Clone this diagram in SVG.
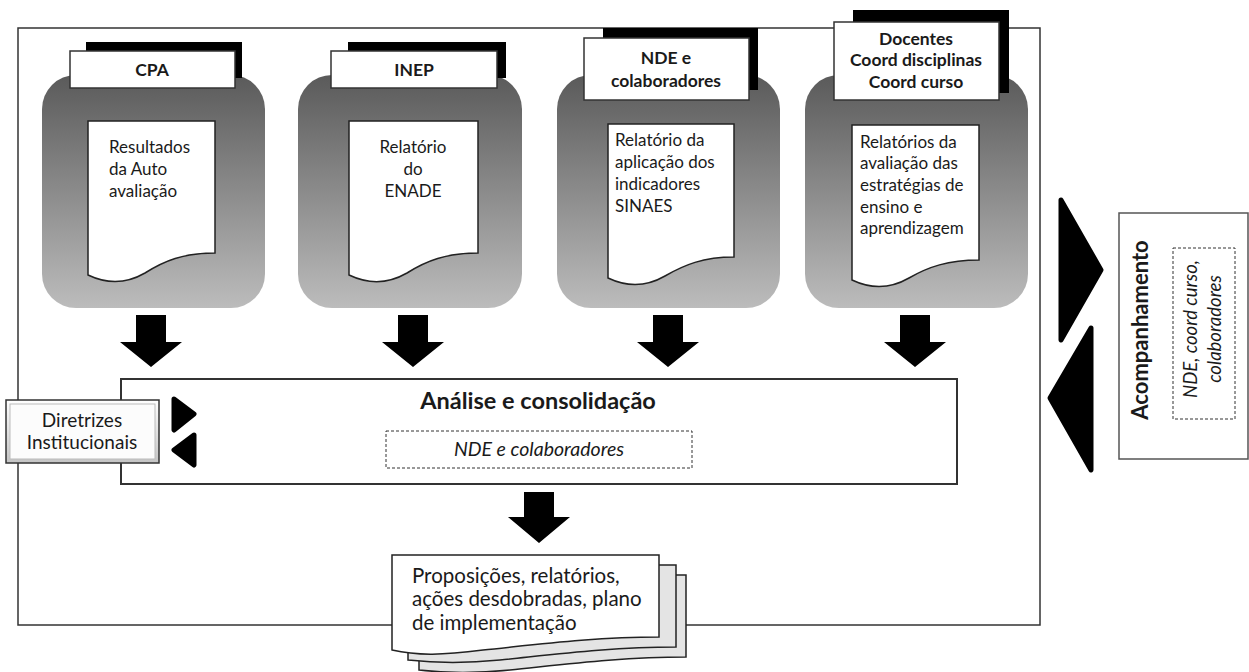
<svg xmlns="http://www.w3.org/2000/svg" width="1249" height="672" viewBox="0 0 1249 672">
<defs>
<linearGradient id="panelGrad" x1="0" y1="0" x2="0" y2="1">
<stop offset="0" stop-color="#5a5a5a"/>
<stop offset="1" stop-color="#bcbcbc"/>
</linearGradient>
<linearGradient id="bevel" x1="0" y1="0" x2="0" y2="1">
<stop offset="0" stop-color="#ffffff"/>
<stop offset="1" stop-color="#c4c4c4"/>
</linearGradient>
<style>
text{font-family:Lato,"Open Sans","Liberation Sans",sans-serif;fill:#1a1a1a}
.panel{fill:url(#panelGrad);stroke:none}
.shadow{fill:#000}
.label{fill:#fff;stroke:#333;stroke-width:1.5}
.lbl{font-size:17.5px;font-weight:bold;text-anchor:middle}
.doc{fill:#fff;stroke:#222;stroke-width:1.5}
.doc2{fill:#e4e4e4;stroke:#222;stroke-width:1.5}
.dtxt{font-size:17px}
.frame{fill:none;stroke:#333;stroke-width:1.5}
.arrow{fill:#000}
.dash{fill:#fff;stroke:#333;stroke-width:1;stroke-dasharray:3,2}
.tri{fill:#000;stroke:#000;stroke-width:5;stroke-linejoin:round}
</style>
</defs>
<rect width="1249" height="672" fill="#fff"/>

<g id="frame"><rect class="frame" x="18" y="28" width="1022" height="597"/></g>

<g id="panel-cpa">
<rect class="panel" x="42" y="75" width="223" height="233" rx="34"/>
<rect class="shadow" x="86" y="42" width="156" height="36"/>
<rect class="label" x="70" y="51" width="165" height="37"/>
<text class="lbl" x="152" y="76">CPA</text>
<path class="doc" d="M88,121 H215 V253 C183,253 164,261 145,273 C126,284 107,284 88,275 Z"/>
<text class="dtxt" x="109" y="153">Resultados</text>
<text class="dtxt" x="109" y="175">da Auto</text>
<text class="dtxt" x="109" y="197">avaliação</text>
</g>

<g id="panel-inep">
<rect class="panel" x="298" y="75" width="224" height="233" rx="34"/>
<rect class="shadow" x="348" y="42" width="158" height="36"/>
<rect class="label" x="331" y="51" width="166" height="37"/>
<text class="lbl" x="414" y="76">INEP</text>
<path class="doc" d="M349,121 H478 V253 C446,253 426,261 407,273 C388,284 368,284 349,275 Z"/>
<text class="dtxt" x="413" y="153" text-anchor="middle">Relatório</text>
<text class="dtxt" x="413" y="175" text-anchor="middle">do</text>
<text class="dtxt" x="413" y="197" text-anchor="middle">ENADE</text>
</g>

<g id="panel-nde">
<rect class="panel" x="557" y="75" width="223" height="233" rx="34"/>
<rect class="shadow" x="603" y="28" width="155" height="62"/>
<rect class="label" x="584" y="38" width="165" height="62"/>
<text class="lbl" x="666" y="64">NDE e</text>
<text class="lbl" x="666" y="87">colaboradores</text>
<path class="doc" d="M608,124 H734 V257 C703,257 684,265 665,276 C646,287 627,287 608,278 Z"/>
<text class="dtxt" x="615" y="146">Relatório da</text>
<text class="dtxt" x="615" y="168">aplicação dos</text>
<text class="dtxt" x="615" y="190">indicadores</text>
<text class="dtxt" x="615" y="212">SINAES</text>
</g>

<g id="panel-docentes">
<rect class="panel" x="805" y="75" width="223" height="233" rx="34"/>
<rect class="shadow" x="853" y="10" width="156" height="83"/>
<rect class="label" x="834" y="22" width="165" height="78"/>
<text class="lbl" x="916" y="45">Docentes</text>
<text class="lbl" x="916" y="66">Coord disciplinas</text>
<text class="lbl" x="916" y="88">Coord curso</text>
<path class="doc" d="M852,125 H979 V260 C948,260 928,267 909,278 C890,289 871,289 852,280 Z"/>
<text class="dtxt" x="860" y="148">Relatórios da</text>
<text class="dtxt" x="860" y="169">avaliação das</text>
<text class="dtxt" x="860" y="191">estratégias de</text>
<text class="dtxt" x="860" y="213">ensino e</text>
<text class="dtxt" x="860" y="234">aprendizagem</text>
</g>

<g id="analise">
<rect x="121" y="379" width="836" height="105" fill="#fff" stroke="#333" stroke-width="2"/>
<text x="538" y="409" font-size="23.5" font-weight="bold" text-anchor="middle">Análise e consolidação</text>
<rect class="dash" x="386" y="431" width="306" height="37"/>
<text x="539" y="456" font-size="19.5" font-style="italic" text-anchor="middle">NDE e colaboradores</text>
</g>

<g id="diretrizes">
<rect x="6" y="400" width="153" height="63" fill="url(#bevel)" stroke="#333" stroke-width="1.5"/>
<rect x="10" y="404" width="145" height="55" fill="#fcfcfc" stroke="#bbb" stroke-width="1"/>
<text x="82" y="427" font-size="19" text-anchor="middle">Diretrizes</text>
<text x="82" y="449" font-size="19" text-anchor="middle">Institucionais</text>
</g>

<g id="proposicoes">
<path class="doc2" d="M419,575 H686 V657 C620,657 560,665 510,670 C470,674 445,673 419,670 Z"/>
<path class="doc2" d="M408,565 H676 V647 C610,647 550,655 500,660 C460,664 435,663 408,660 Z"/>
<path class="doc" d="M392,555 H659 V637 C593,637 533,645 483,650 C443,655 418,656 392,650 Z"/>
<text x="412" y="583" font-size="20.5">Proposições, relatórios,</text>
<text x="412" y="606" font-size="20.5">ações desdobradas, plano</text>
<text x="412" y="630" font-size="20.5">de implementação</text>
</g>

<g id="acompanhamento">
<rect x="1119" y="213" width="129" height="246" fill="#fff" stroke="#555" stroke-width="1.5"/>
<text transform="translate(1148,330) rotate(-90)" x="0" y="0" font-size="22" font-weight="bold" text-anchor="middle">Acompanhamento</text>
<rect class="dash" x="1173" y="248" width="62" height="171"/>
<text transform="translate(1197,329) rotate(-90)" x="0" y="0" font-size="18.5" font-style="italic" text-anchor="middle">NDE, coord curso,</text>
<text transform="translate(1221,329) rotate(-90)" x="0" y="0" font-size="18.5" font-style="italic" text-anchor="middle">colaboradores</text>
</g>

<g id="connectors">
<polygon class="arrow" points="136,315 166,315 166,342 182,342 151,367 120,342 136,342"/>
<polygon class="arrow" points="398,315 428,315 428,342 444,342 413,367 382,342 398,342"/>
<polygon class="arrow" points="653,315 683,315 683,342 699,342 668,367 637,342 653,342"/>
<polygon class="arrow" points="900,315 930,315 930,342 946,342 915,367 884,342 900,342"/>
<polygon class="arrow" points="524,492 554,492 554,517 570,517 539,543 508,517 524,517"/>
<polygon class="tri" points="174,399 194,414 174,430"/>
<polygon class="tri" points="194,435 174,450 194,465"/>
<polygon class="tri" points="1061,200 1101,270 1061,340"/>
<polygon class="tri" points="1091,328 1050,398 1091,470"/>
</g>
</svg>
